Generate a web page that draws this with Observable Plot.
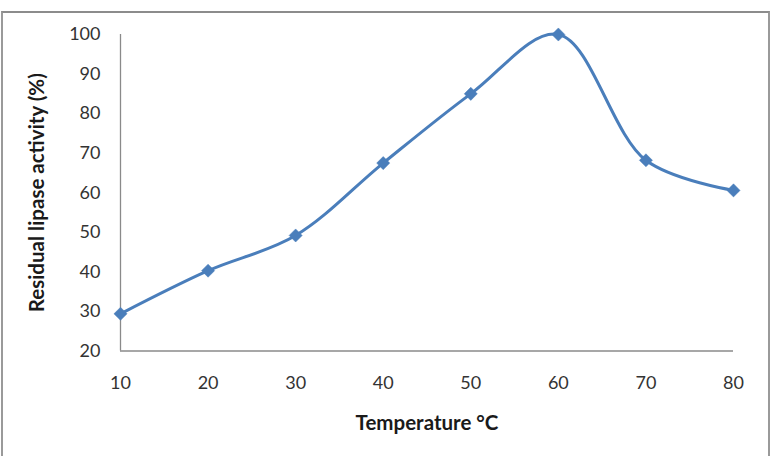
<!DOCTYPE html>
<html>
<head>
<meta charset="utf-8">
<script src="https://cdn.jsdelivr.net/npm/d3@7"></script>
<script src="https://cdn.jsdelivr.net/npm/@observablehq/plot@0.6"></script>
<style>
  html, body { margin: 0; padding: 0; background: #fff; }
  #wrap { position: relative; width: 770px; height: 456px; overflow: hidden; }
  #border {
    position: absolute; left: 1px; top: 11px; width: 765px; height: 470px;
    border: 2px solid #9a9a9a; border-top-color: #8c8c8c; pointer-events: none;
  }
</style>
</head>
<body>
<div id="wrap"><div id="border"></div></div>
<script>
// Residual lipase activity after incubation at each temperature
const temperatures = [10, 20, 30, 40, 50, 60, 70, 80];
const activity = [29.4, 40.3, 49.2, 67.5, 85.0, 100.0, 68.2, 60.6];
const xTicks = [10, 20, 30, 40, 50, 60, 70, 80];
const yTicks = [20, 30, 40, 50, 60, 70, 80, 90, 100];

const data = temperatures.map((t, i) => ({temperature: t, activity: activity[i]}));

const blue = "#4A7EBB";
const axisGray = "#8a8a8a";

const chart = Plot.plot({
  width: 770,
  height: 456,
  marginLeft: 120,
  marginRight: 37,
  marginTop: 34,
  marginBottom: 105.5,
  style: {fontFamily: "Lato, 'Open Sans', sans-serif", fontSize: "18px", color: "#333", background: "transparent"},
  x: {domain: [10, 80]},
  y: {domain: [20, 100]},
  marks: [
    Plot.ruleX([10], {stroke: axisGray, strokeWidth: 1.3}),
    Plot.ruleY([20], {stroke: axisGray, strokeWidth: 1.3}),
    Plot.axisX({
      ticks: xTicks, tickSize: 0, tickPadding: 25,
      label: "Temperature °C", labelAnchor: "center", labelArrow: "none", labelOffset: 79
    }),
    Plot.axisY({
      ticks: yTicks, tickSize: 0, tickPadding: 20,
      label: "Residual lipase activity (%)", labelAnchor: "center", labelArrow: "none", labelOffset: 91
    }),
    Plot.line(data, {x: "temperature", y: "activity", curve: "catmull-rom", stroke: blue, strokeWidth: 3}),
    Plot.dot(data, {x: "temperature", y: "activity", symbol: "diamond2", r: 5.9, fill: blue, stroke: blue, strokeWidth: 0.5})
  ]
});

// bold axis titles
d3.select(chart).selectAll("g[aria-label='x-axis label'] text, g[aria-label='y-axis label'] text")
  .attr("font-weight", "bold").attr("font-size", "20.5px").attr("fill", "#1a1a1a");

chart.style.position = "absolute";
chart.style.left = "0px";
chart.style.top = "0px";
document.getElementById("wrap").appendChild(chart);
</script>
</body>
</html>
